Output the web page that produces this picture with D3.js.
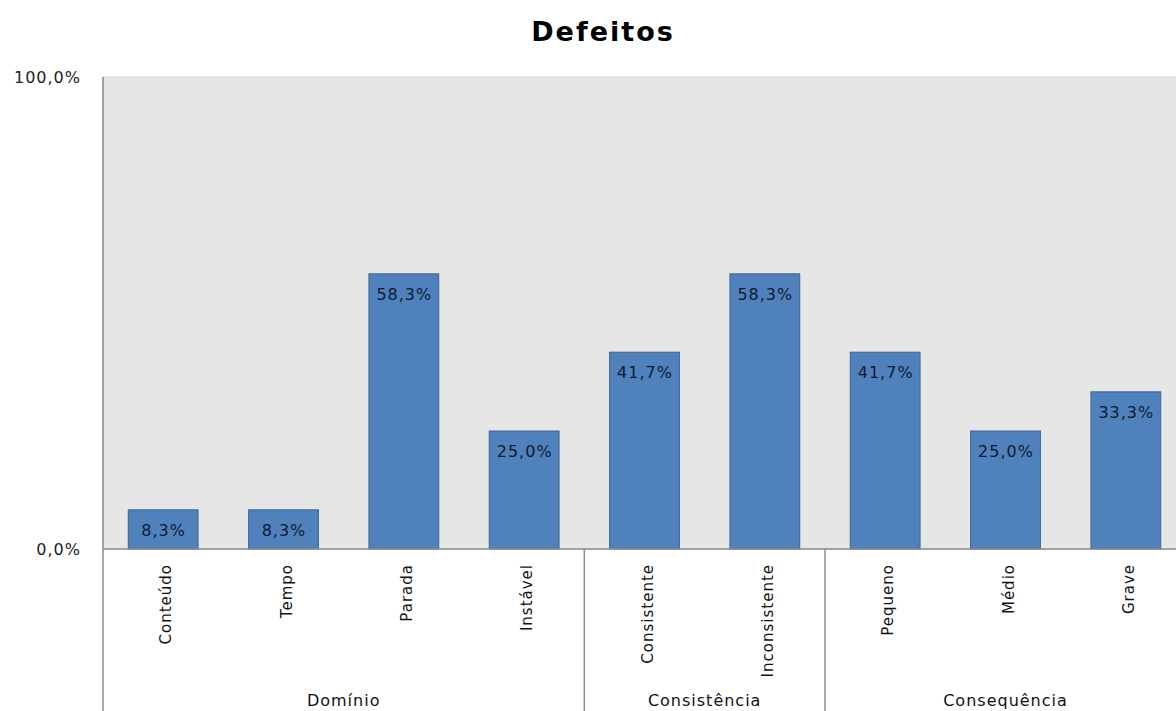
<!DOCTYPE html>
<html>
<head>
<meta charset="utf-8">
<script src="https://cdn.jsdelivr.net/npm/d3@7"></script>
<style>
  html, body { margin: 0; padding: 0; background: #ffffff; overflow: hidden; }
  svg { display: block; font-family: "DejaVu Sans", "Open Sans", sans-serif; }
</style>
</head>
<body>
<svg id="chart" width="1176" height="711"></svg>
<script>
// Defect classification shares
const categories = ["Conteúdo", "Tempo", "Parada", "Instável", "Consistente", "Inconsistente", "Pequeno", "Médio", "Grave"];
const values = [8.3, 8.3, 58.3, 25.0, 41.7, 58.3, 41.7, 25.0, 33.3];
const groupNames = ["Domínio", "Consistência", "Consequência"];
const groupSizes = [4, 2, 3];
const yTicks = [0, 100];
const title = "Defeitos";

const svg = d3.select("#chart");
const plotLeft = 103, plotRight = 1186, plotTop = 77, plotBottom = 549;

const x = d3.scaleBand().domain(categories).range([plotLeft, plotRight]).paddingInner(0.42).paddingOuter(0.21);
const xBand = d3.scaleBand().domain(categories).range([plotLeft, plotRight]);
const y = d3.scaleLinear().domain([0, 100]).range([plotBottom, plotTop]);
const fmt = v => d3.format(".1f")(v).replace(".", ",") + "%";

// plot background
svg.append("rect").attr("x", plotLeft).attr("y", plotTop).attr("width", plotRight - plotLeft).attr("height", plotBottom - plotTop)
  .attr("fill", "#e6e6e6").attr("stroke", "#c9d3df").attr("stroke-width", 1);

// title
svg.append("text").attr("x", 603).attr("y", 41).attr("text-anchor", "middle")
  .attr("font-size", 27).attr("font-weight", "bold").attr("letter-spacing", 2)
  .attr("fill", "#000").text(title);

// y axis
const yAxis = d3.axisLeft(y).tickValues(yTicks).tickFormat(fmt).tickSize(0).tickPadding(22);
const ya = svg.append("g").attr("transform", `translate(${plotLeft},0)`).call(yAxis);
ya.select(".domain").remove();
ya.selectAll("text").attr("font-size", 16).attr("letter-spacing", 1)
  .attr("fill", "#222").attr("font-family", "DejaVu Sans");

// bars
svg.append("g").selectAll("rect").data(values).join("rect")
  .attr("x", (d, i) => x(categories[i]))
  .attr("y", d => y(d))
  .attr("width", x.bandwidth())
  .attr("height", d => y(0) - y(d))
  .attr("fill", "#4f81bd").attr("stroke", "#3b6593").attr("stroke-width", 1);

// value labels
svg.append("g").selectAll("text").data(values).join("text")
  .attr("x", (d, i) => x(categories[i]) + x.bandwidth() / 2 + 0.5)
  .attr("y", d => y(d) + 26)
  .attr("text-anchor", "middle").attr("font-size", 16).attr("letter-spacing", 1)
  .attr("fill", "#111a2c")
  .text(d => fmt(d));

// axis lines
svg.append("line").attr("x1", plotLeft).attr("x2", plotLeft).attr("y1", plotTop).attr("y2", 711)
  .attr("stroke", "#8c8c8c").attr("stroke-width", 1.5);
svg.append("line").attr("x1", plotLeft).attr("x2", plotRight).attr("y1", plotBottom).attr("y2", plotBottom)
  .attr("stroke", "#8c8c8c").attr("stroke-width", 1.5);

// category labels
svg.append("g").selectAll("text").data(categories).join("text")
  .attr("transform", d => `translate(${xBand(d) + xBand.bandwidth() / 2 + 8},${plotBottom + 15}) rotate(-90)`)
  .attr("text-anchor", "end").attr("font-size", 15).attr("letter-spacing", 1)
  .attr("fill", "#111").text(d => d);

// group separators and labels
let start = 0;
groupNames.forEach((g, gi) => {
  const x0 = xBand(categories[start]);
  const end = start + groupSizes[gi];
  const x1 = end < categories.length ? xBand(categories[end]) : plotRight;
  if (end < categories.length) {
    svg.append("line").attr("x1", x1).attr("x2", x1).attr("y1", plotBottom).attr("y2", 711)
      .attr("stroke", "#8c8c8c").attr("stroke-width", 1.5);
  }
  svg.append("text").attr("x", (x0 + x1) / 2).attr("y", 706).attr("text-anchor", "middle")
    .attr("font-size", 16).attr("letter-spacing", 1).attr("fill", "#111").text(g);
  start = end;
});
</script>
</body>
</html>
